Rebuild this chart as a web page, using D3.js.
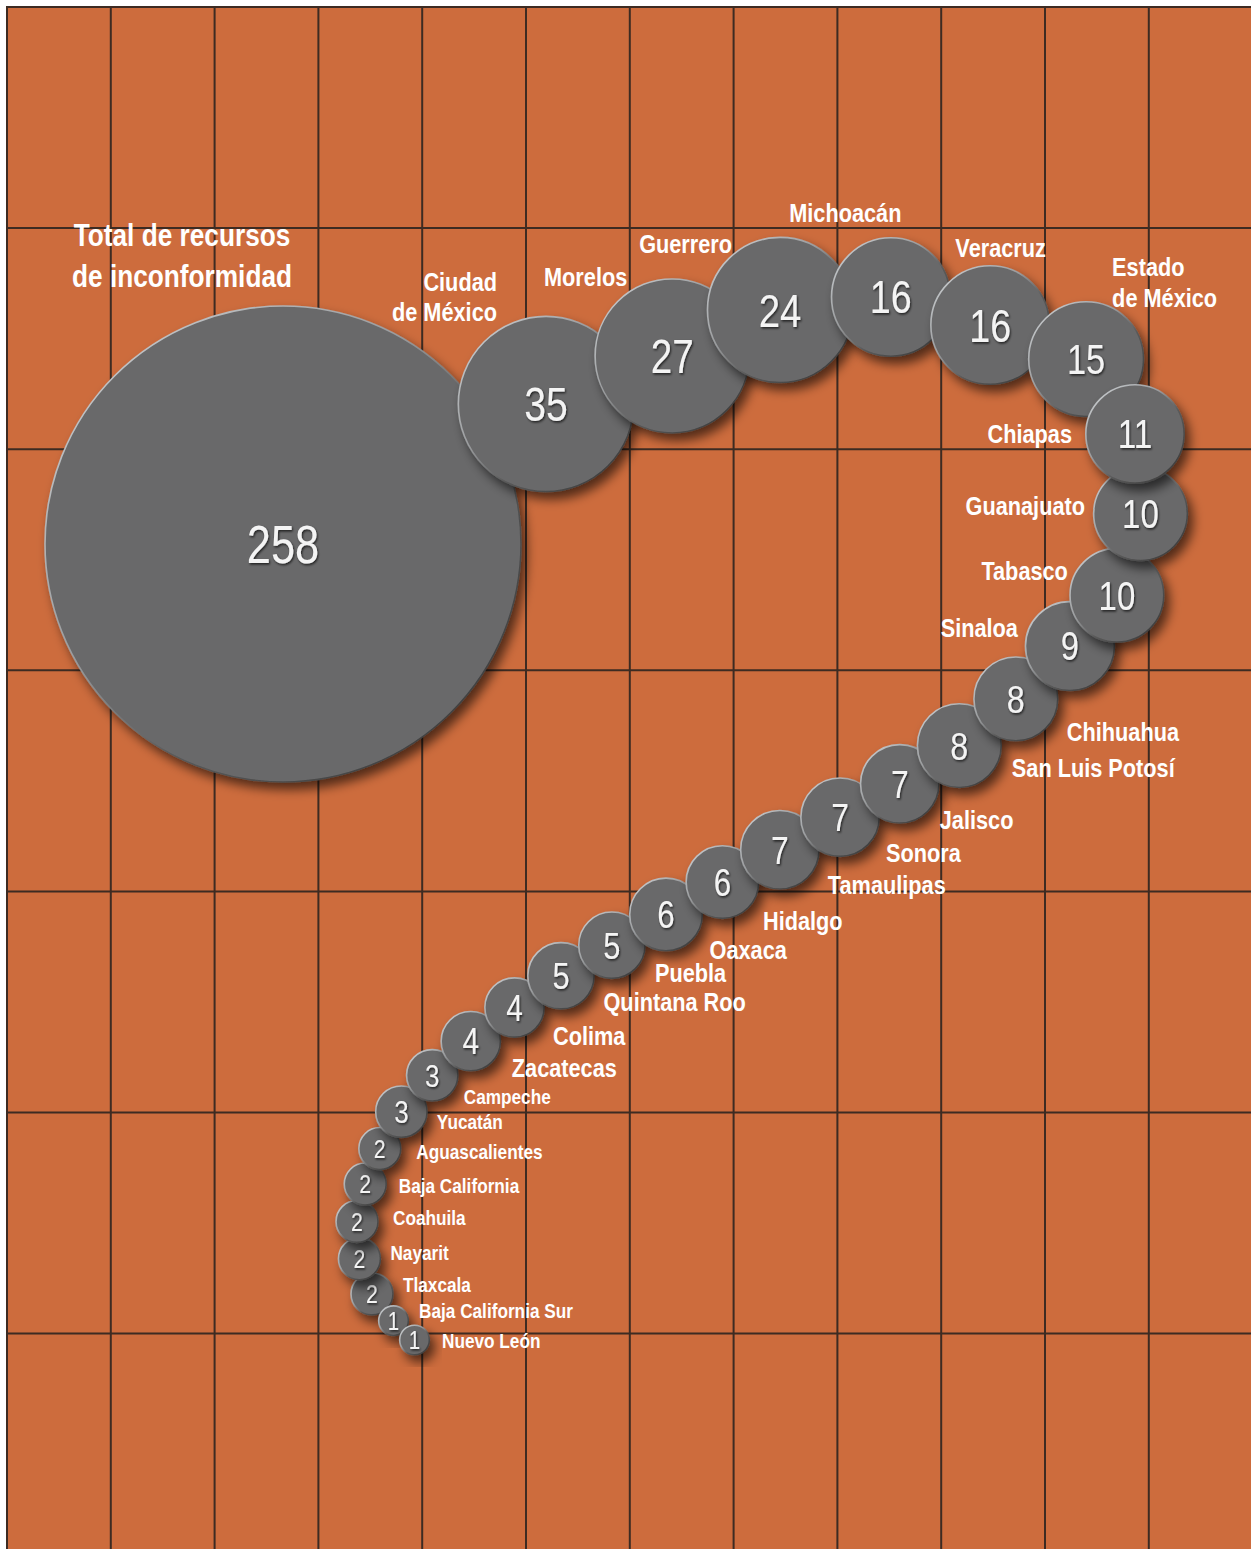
<!DOCTYPE html>
<html>
<head>
<meta charset="utf-8">
<script src="https://cdn.jsdelivr.net/npm/d3@7"></script>
<style>
html,body{margin:0;padding:0;background:#ffffff;}
svg{display:block;}
text{font-family:'Liberation Sans','Arial',Helvetica,sans-serif;}
</style>
</head>
<body>
<svg id="chart" width="1251" height="1549"></svg>
<script>
// ---------- DATA ----------
const states = [
  "Total de recursos\nde inconformidad", "Ciudad\nde México", "Morelos", "Guerrero",
  "Michoacán", "Veracruz", "Estado\nde México", "Chiapas", "Guanajuato", "Tabasco",
  "Sinaloa", "Chihuahua", "San Luis Potosí", "Jalisco", "Sonora", "Tamaulipas",
  "Hidalgo", "Oaxaca", "Puebla", "Quintana Roo", "Colima", "Zacatecas", "Campeche",
  "Yucatán", "Aguascalientes", "Baja California", "Coahuila", "Nayarit", "Tlaxcala",
  "Baja California Sur", "Nuevo León"
];
const values = [258, 35, 27, 24, 16, 16, 15, 11, 10, 10, 9, 8, 8, 7, 7, 7, 6, 6, 5, 5, 4, 4, 3, 3, 2, 2, 2, 2, 2, 1, 1];

// ---------- LAYOUT (not data) ----------
// guide path of the chain: [bubble index pinned on it, x, y]
const guidePins = [
  [0, 283, 544], [1, 546, 404], [2, 672, 356], [3, 780, 310], [4, 891, 297], [5, 990, 325],
  [6, 1086, 359], [7, 1135, 434], [8, 1140.5, 513.5], [9, 1117, 595], [10, 1070, 646],
  [12, 959.5, 745.5], [16, 722.5, 882], [20, 514.5, 1007.5], [23, 401.5, 1111.5],
  [26, 357, 1221.5], [28, 372, 1294], [30, 414.5, 1340]
];
// label placement relative to the bubble centre: [dx, dy(baseline of first line), anchor]
const labelLayout = [
  [-101, -298, "middle"], [-49, -113, "end"], [-86.5, -70, "middle"], [-94.5, -57, "middle"],
  [-45.5, -75, "middle"], [10.5, -68, "middle"], [26, -83, "start"], [-63, 9, "end"],
  [-55.5, 1.5, "end"], [-49, -15, "end"], [-52, -9, "end"], [51, 42, "start"],
  [52.5, 31.5, "start"], [40, 45, "start"], [46, 45, "start"], [48, 44.5, "start"],
  [40.5, 48, "start"], [43.5, 44.5, "start"], [43, 37, "start"], [42.5, 35.5, "start"],
  [38.5, 37.5, "start"], [41, 36, "start"], [31.5, 28.5, "start"], [35.5, 17.5, "start"],
  [36.5, 10, "start"], [33.5, 9, "start"], [36, 3.5, "start"], [31, 1, "start"],
  [31, -2, "start"], [25.5, -2.5, "start"], [27.5, 8, "start"]
];
const NARROW = 0.82; // horizontal compression giving a narrow sans

const W = 1251, H = 1549;
const svg = d3.select("#chart");

// ---------- DEFS ----------
const defs = svg.append("defs");
const sh = defs.append("filter").attr("id", "shadow")
  .attr("x", "-30%").attr("y", "-30%").attr("width", "170%").attr("height", "170%");
sh.append("feDropShadow").attr("dx", 5).attr("dy", 7).attr("stdDeviation", 5.5)
  .attr("flood-color", "#000").attr("flood-opacity", 0.6);
const ts = defs.append("filter").attr("id", "txtshadow")
  .attr("x", "-20%").attr("y", "-20%").attr("width", "150%").attr("height", "150%");
ts.append("feDropShadow").attr("dx", 1).attr("dy", 1.5).attr("stdDeviation", 0.8)
  .attr("flood-color", "#000").attr("flood-opacity", 0.7);
const rim = defs.append("linearGradient").attr("id", "rim")
  .attr("x1", 0).attr("y1", 0).attr("x2", 1).attr("y2", 1);
rim.append("stop").attr("offset", "0%").attr("stop-color", "#d3d7da");
rim.append("stop").attr("offset", "40%").attr("stop-color", "#9a9c9e");
rim.append("stop").attr("offset", "60%").attr("stop-color", "#5a5a5a");
rim.append("stop").attr("offset", "100%").attr("stop-color", "#333333");

// ---------- GRID ----------
const gx = d3.scaleLinear().domain([0, 12]).range([7, 1252.6]);
const gy = d3.scaleLinear().domain([0, 7]).range([7, 1554.7]);
svg.append("rect").attr("x", gx(0)).attr("y", gy(0))
  .attr("width", gx(12) - gx(0)).attr("height", gy(7) - gy(0)).attr("fill", "#cd6c3d");
const grid = svg.append("g").attr("stroke", "#3d2b22").attr("stroke-width", 2);
grid.selectAll("line.v").data(d3.range(0, 13)).join("line").attr("class", "v")
  .attr("x1", d => gx(d)).attr("x2", d => gx(d)).attr("y1", gy(0) - 1).attr("y2", H);
grid.selectAll("line.h").data(d3.range(0, 8)).join("line").attr("class", "h")
  .attr("y1", d => gy(d)).attr("y2", d => gy(d)).attr("x1", gx(0) - 1).attr("x2", W);

// ---------- SCALES ----------
const rScale = d3.scaleSqrt().domain([0, 258]).range([0, 238]);
const numFont = d3.scaleLinear().domain([15, 21, 30, 45, 57.5, 59, 90, 240])
  .range([25, 26, 37, 40, 42, 46, 48, 53]).clamp(true);

// ---------- CHAIN LAYOUT ALONG GUIDE PATH ----------
const guide = svg.append("path")
  .attr("d", d3.line().curve(d3.curveCatmullRom.alpha(0.5))(guidePins.map(p => [p[1], p[2]])))
  .attr("fill", "none").attr("stroke", "none");
const gnode = guide.node();
const L = gnode.getTotalLength();
const step = 0.5;
const samples = d3.range(0, L + step, step).map(s => {
  const ss = Math.min(s, L); const p = gnode.getPointAtLength(ss); return { s: ss, x: p.x, y: p.y };
});
let from = 0;
const pinS = guidePins.map(p => {
  let best = from, bd = Infinity;
  for (let k = from; k < samples.length; k++) {
    const d = Math.hypot(samples[k].x - p[1], samples[k].y - p[2]);
    if (d < bd) { bd = d; best = k; }
    if (bd < 1 && d > bd + 25) break;
  }
  from = best;
  return samples[best].s;
});

const radii = values.map(v => rScale(v));
const cum = [0];
for (let i = 1; i < values.length; i++) cum.push(cum[i - 1] + radii[i - 1] + radii[i]);

const nodes = values.map((v, i) => {
  let k = 0;
  while (k < guidePins.length - 2 && guidePins[k + 1][0] < i) k++;
  const a = guidePins[k][0], b = guidePins[k + 1][0];
  const t = (b === a) ? 0 : (cum[i] - cum[a]) / (cum[b] - cum[a]);
  const s = pinS[k] + (pinS[k + 1] - pinS[k]) * t;
  const p = gnode.getPointAtLength(s);
  return { i, v, name: states[i], r: radii[i], x: p.x, y: p.y };
});

// ---------- BUBBLES ----------
const order = nodes.slice().sort((a, b) => (a.x - 0.5 * a.y) - (b.x - 0.5 * b.y));
const bub = svg.append("g").selectAll("g.b").data(order).join("g").attr("class", "b");
bub.append("circle")
  .attr("cx", d => d.x).attr("cy", d => d.y).attr("r", d => d.r)
  .attr("fill", "#69696a").attr("stroke", "url(#rim)").attr("stroke-width", 1.6)
  .attr("filter", "url(#shadow)");
bub.append("g").attr("filter", "url(#txtshadow)")
  .append("text")
  .attr("transform", d => `translate(${d.x},${d.y + 0.358 * numFont(d.r)}) scale(${NARROW},1)`)
  .attr("text-anchor", "middle").attr("font-size", d => numFont(d.r))
  .attr("fill", "#f4f4f4")
  .text(d => d.v);

// ---------- LABELS ----------
const lab = svg.append("g").selectAll("text.l").data(nodes).join("text").attr("class", "l")
  .attr("fill", "#ffffff").attr("font-weight", "bold")
  .attr("font-size", d => d.i === 0 ? 32 : (d.v <= 3 ? 21 : 26.5))
  .attr("text-anchor", d => labelLayout[d.i][2])
  .attr("transform", d => `translate(${d.x + labelLayout[d.i][0]},${d.y + labelLayout[d.i][1]}) scale(${NARROW},1)`);
lab.each(function (d) {
  const lines = d.name.split("\n");
  const lh = d.i === 0 ? 41 : 30.5;
  d3.select(this).selectAll("tspan").data(lines).join("tspan")
    .attr("x", 0)
    .attr("dy", (t, j) => j === 0 ? 0 : lh)
    .text(t => t);
});
</script>
</body>
</html>
